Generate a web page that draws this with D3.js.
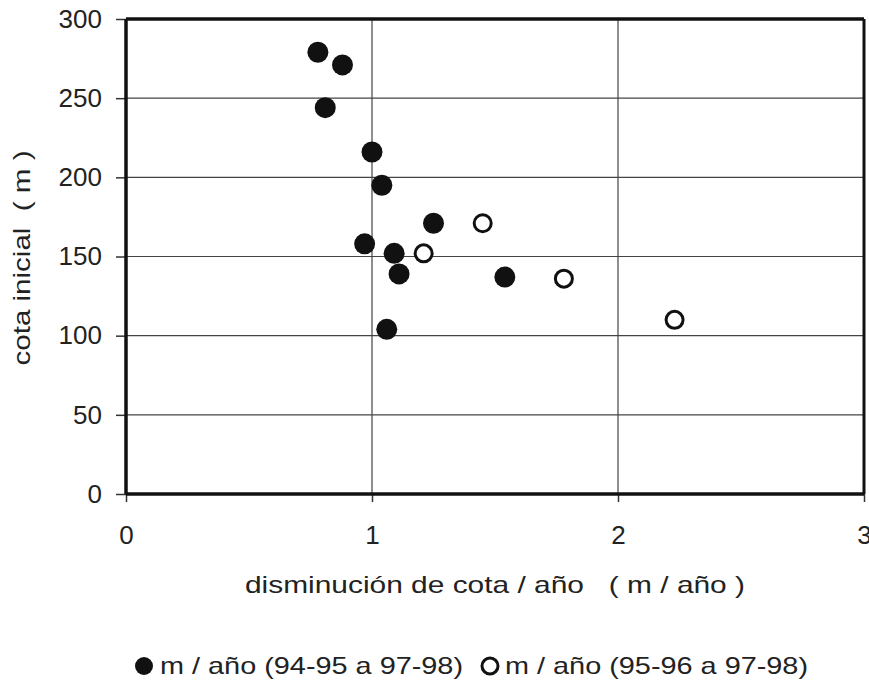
<!DOCTYPE html>
<html><head><meta charset="utf-8">
<script src="https://cdn.jsdelivr.net/npm/d3@7"></script>
<style>body{margin:0;background:#fff}svg{display:block}text{font-family:"Liberation Sans",Arial,sans-serif;fill:#222}</style>
</head><body><svg id="c" width="869" height="688"></svg>
<script>
const seriesNames = ["m / año (94-95 a 97-98)", "m / año (95-96 a 97-98)"];
const filledX = [0.78, 0.88, 0.81, 1.00, 1.04, 1.25, 0.97, 1.09, 1.11, 1.54, 1.06];
const filledY = [279, 271, 244, 216, 195, 171, 158, 152, 139, 137, 104];
const openX = [1.21, 1.45, 1.78, 2.23];
const openY = [152, 171, 136, 110];
const xTicks = [0, 1, 2, 3];
const yTicks = [0, 50, 100, 150, 200, 250, 300];
const xTitle = "disminución de cota / año   ( m / año )";
const yTitle = "cota inicial  ( m )";

const svg = d3.select("#c");
const x = d3.scaleLinear().domain([0, 3]).range([126, 864]);
const y = d3.scaleLinear().domain([0, 300]).range([494, 19]);

// grid
svg.append("g").selectAll("line").data(yTicks.filter(d => d > 0 && d < 300)).join("line")
  .attr("x1", x(0)).attr("x2", x(3)).attr("y1", d => y(d)).attr("y2", d => y(d))
  .attr("stroke", "#444").attr("stroke-width", 1.2);
svg.append("g").selectAll("line").data(xTicks.filter(d => d > 0 && d < 3)).join("line")
  .attr("y1", y(0)).attr("y2", y(300)).attr("x1", d => x(d)).attr("x2", d => x(d))
  .attr("stroke", "#444").attr("stroke-width", 1.2);

// axes
const yAxis = svg.append("g").attr("transform", `translate(${x(0)},0)`)
  .call(d3.axisLeft(y).tickValues(yTicks).tickFormat(d3.format("d")).tickSize(10).tickPadding(14));
yAxis.select(".domain").remove();
yAxis.selectAll("line").attr("stroke", "#333").attr("stroke-width", 1.5);
yAxis.selectAll("text").attr("font-size", 26).attr("fill", "#222");

const xAxis = svg.append("g").attr("transform", `translate(0,${y(0)})`)
  .call(d3.axisBottom(x).tickValues(xTicks).tickFormat(d3.format("d")).tickSize(8).tickPadding(24));
xAxis.select(".domain").remove();
xAxis.selectAll("line").attr("stroke", "#333").attr("stroke-width", 1.5);
xAxis.selectAll("text").attr("font-size", 26).attr("fill", "#222");

// frame
svg.append("line").attr("x1", x(0)).attr("x2", x(3)).attr("y1", y(300)).attr("y2", y(300)).attr("stroke", "#111").attr("stroke-width", 3.5);
svg.append("line").attr("x1", x(0)).attr("x2", x(3)).attr("y1", y(0)).attr("y2", y(0)).attr("stroke", "#111").attr("stroke-width", 3.5);
svg.append("line").attr("x1", x(0)).attr("x2", x(0)).attr("y1", y(0)).attr("y2", y(300)).attr("stroke", "#111").attr("stroke-width", 3.5);
svg.append("line").attr("x1", x(3)).attr("x2", x(3)).attr("y1", y(0)).attr("y2", y(300)).attr("stroke", "#111").attr("stroke-width", 3);

// points
const filled = filledX.map((v, i) => ({x: v, y: filledY[i]}));
const open = openX.map((v, i) => ({x: v, y: openY[i]}));
svg.append("g").selectAll("circle").data(filled).join("circle")
  .attr("cx", d => x(d.x)).attr("cy", d => y(d.y)).attr("r", 10.5).attr("fill", "#111");
svg.append("g").selectAll("circle").data(open).join("circle")
  .attr("cx", d => x(d.x)).attr("cy", d => y(d.y)).attr("r", 8.5)
  .attr("fill", "#fff").attr("stroke", "#111").attr("stroke-width", 3);

// titles
svg.append("text").attr("x", 495).attr("y", 593).attr("text-anchor", "middle")
  .attr("font-size", 24).attr("textLength", 500).attr("lengthAdjust", "spacingAndGlyphs")
  .style("white-space", "pre").text(xTitle);
svg.append("text").attr("transform", "translate(30,258) rotate(-90)").attr("text-anchor", "middle")
  .attr("font-size", 24).attr("textLength", 215).attr("lengthAdjust", "spacingAndGlyphs")
  .style("white-space", "pre").text(yTitle);

// legend
const leg = svg.append("g");
leg.append("circle").attr("cx", 144).attr("cy", 666).attr("r", 9).attr("fill", "#111");
leg.append("text").attr("x", 160).attr("y", 674).attr("font-size", 24)
  .attr("textLength", 303).attr("lengthAdjust", "spacingAndGlyphs").text(seriesNames[0]);
leg.append("circle").attr("cx", 490).attr("cy", 666).attr("r", 8).attr("fill", "#fff").attr("stroke", "#111").attr("stroke-width", 3);
leg.append("text").attr("x", 505).attr("y", 674).attr("font-size", 24)
  .attr("textLength", 303).attr("lengthAdjust", "spacingAndGlyphs").text(seriesNames[1]);
</script></body></html>
